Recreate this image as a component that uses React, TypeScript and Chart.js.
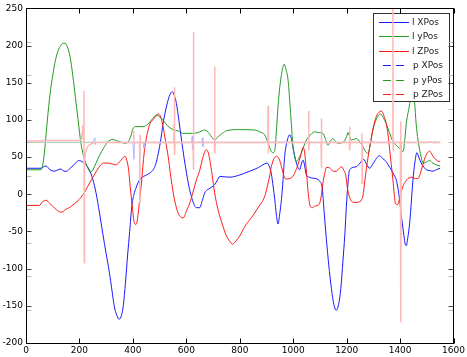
import React, { useEffect, useRef } from "react";
import { Chart, registerables } from "chart.js";

Chart.register(...registerables);

type P = [number, number];

const legendLabels = ["l XPos", "l yPos", "l ZPos", "p XPos", "p yPos", "p ZPos"];
const mainColors = ["#1a1aff", "#259a25", "#ff1a1a"];
const legendColors = ["#1a1aff", "#259a25", "#ff1a1a", "#1a1aff", "#259a25", "#ff1a1a"];
const lightColors = ["#b4b4ff", "#b4dcb4", "#ffb8b8"];

const lXPos: P[] = [
  [0, 35], [56, 35], [66, 37], [75, 38], [90, 33], [106, 31], [120, 33], [131, 34], [142, 31], [152, 31],
  [162, 34], [175, 38], [188, 43], [199, 45.5], [210, 44], [218, 42], [228, 38], [237, 33], [250, 20], [262, 2],
  [275, -25], [287, -52], [300, -80], [312, -105], [322, -130], [330, -150], [340, -163], [349, -168], [357, -163],
  [364, -150], [372, -120], [380, -83], [388, -50], [396, -16], [404, 0], [411, 8], [420, 16], [426, 20], [440, 24],
  [451, 26], [465, 29], [476, 33], [485, 40], [495, 55], [505, 75], [513, 95], [522, 112], [532, 127], [540, 135],
  [547, 138], [555, 133], [563, 122], [572, 100], [582, 73], [592, 48], [601, 28], [610, 10], [619, -3], [628, -13],
  [638, -18], [650, -18], [660, -8], [669, 2], [678, 6], [688, 8], [700, 11], [706, 13], [715, 18], [725, 24],
  [763, 23], [800, 26], [837, 31], [870, 36], [893, 41], [903, 42], [910, 38], [918, 28], [925, 10], [931, -7],
  [937, -28], [943, -40], [950, -25], [956, -7], [962, 20], [968, 51], [975, 68], [987, 80], [993, 75], [999, 64],
  [1005, 52], [1012, 42], [1018, 36], [1024, 33], [1030, 40], [1037, 46], [1043, 38], [1049, 26], [1060, 23],
  [1068, 22], [1093, 20], [1100, 17], [1108, 10], [1116, -25], [1124, -60], [1133, -95], [1143, -127], [1152, -148],
  [1161, -156], [1170, -148], [1178, -127], [1186, -90], [1193, -55], [1199, -16], [1205, 15], [1211, 33],
  [1236, 37], [1250, 42], [1264, 47], [1275, 40], [1286, 35], [1300, 42], [1323, 52], [1335, 48], [1348, 44],
  [1358, 38], [1367, 33], [1377, 26], [1386, 19], [1392, 8], [1398, -7], [1405, -30], [1413, -52], [1418, -65],
  [1423, -69], [1429, -58], [1436, -38], [1442, -10], [1448, 19], [1455, 42], [1463, 56], [1470, 50], [1479, 42],
  [1490, 36], [1498, 33], [1510, 32], [1523, 31], [1535, 33], [1550, 35],
];

const lYPos: P[] = [
  [0, 33], [56, 33], [62, 38], [70, 60], [80, 100], [90, 135], [100, 160], [110, 180], [120, 193], [130, 200],
  [140, 203], [147, 203], [155, 198], [165, 185], [175, 160], [185, 130], [195, 100], [205, 70], [213, 55],
  [218, 48.5], [228, 38], [236, 32], [243, 30], [252, 34], [262, 42], [275, 52], [290, 62], [305, 70], [324, 74],
  [340, 72], [355, 70], [374, 68.6], [385, 72], [392, 78], [400, 88], [411, 91], [439, 91], [455, 94], [470, 100],
  [488, 106.5], [500, 104], [512, 100], [530, 92], [550, 87], [570, 85], [587, 82], [629, 82], [650, 84],
  [669, 86.5], [685, 82], [697, 76], [706, 73], [720, 78], [735, 82], [750, 85.5], [800, 87], [856, 86.5],
  [875, 84], [893, 80], [905, 70], [918, 57.5], [925, 56], [931, 59], [937, 85], [943, 117], [950, 145],
  [958, 165], [966, 175], [973, 168], [981, 153], [987, 125], [993, 95], [999, 64], [1005, 52], [1012, 44],
  [1020, 48], [1030, 55], [1040, 65], [1049, 73], [1060, 78], [1080, 84], [1095, 83], [1111, 82], [1120, 75],
  [1130, 66], [1140, 72], [1149, 75], [1158, 71], [1167, 68.6], [1180, 69], [1192, 72], [1200, 78], [1205, 83],
  [1211, 78], [1218, 73], [1237, 75], [1250, 70], [1261, 64], [1270, 58], [1280, 55], [1290, 70], [1298, 86.5],
  [1310, 100], [1326, 108], [1337, 103], [1348, 95], [1360, 83], [1373, 71], [1385, 66], [1398, 62], [1411, 57.5],
  [1418, 75], [1423, 95], [1430, 110], [1436, 122], [1446, 152], [1454, 125], [1460, 95], [1467, 73], [1476, 55],
  [1486, 42], [1498, 43], [1510, 45.5], [1522, 42], [1535, 39.7], [1550, 38],
];

const lZPos: P[] = [
  [0, -15], [50, -15], [62, -10], [75, -8], [88, -12], [100, -16], [115, -21], [130, -24], [140, -23], [150, -20],
  [162, -18], [180, -13], [199, -7], [210, -2], [218, 2], [230, 10], [249, 22], [265, 32], [280, 39.7], [292, 42],
  [305, 42], [320, 41], [336, 39.7], [346, 42], [355, 45.5], [365, 50], [371, 51], [377, 46], [384, 33], [390, 10],
  [395, -8], [399, -20.5], [405, -38], [411, -40.5], [415, -38], [420, -25], [426, -5], [432, 15], [438, 40],
  [445, 64], [454, 82], [464, 95], [480, 102], [495, 108], [505, 103], [513, 91], [522, 72], [532, 51], [541, 26],
  [551, 2], [560, -14], [569, -25], [578, -30], [588, -32], [600, -23], [613, -11.6], [625, 3], [638, 19.6],
  [650, 32], [663, 51], [675, 60], [682, 56], [688, 46], [697, 25], [706, 2], [715, -15], [725, -29], [738, -44],
  [750, -56], [762, -63], [773, -67], [785, -63], [800, -56], [819, -43], [840, -33], [856, -25], [870, -17],
  [881, -11.6], [893, -3], [906, 15], [912, 25], [918, 37], [928, 48], [937, 51], [945, 49], [950, 45], [956, 37],
  [962, 28.5], [968, 22], [975, 20.5], [985, 21], [993, 22], [1005, 28], [1018, 40], [1028, 52], [1037, 63],
  [1042, 58], [1046, 45], [1050, 28], [1055, 6], [1060, -10], [1065, -17], [1072, -18], [1080, -16], [1090, -15],
  [1099, -12], [1105, -2], [1111, 15], [1118, 28], [1124, 36], [1133, 36], [1143, 33], [1152, 31], [1161, 31],
  [1170, 34], [1180, 37], [1190, 32], [1197, 25], [1203, 8], [1211, -4], [1218, -9.4], [1230, -11], [1249, -10],
  [1256, -7], [1261, -2], [1268, 18], [1274, 35], [1286, 63], [1300, 90], [1311, 105], [1320, 110], [1330, 112],
  [1340, 105], [1348, 95], [1355, 80], [1361, 60], [1367, 40], [1373, 19.6], [1378, 0], [1383, -13], [1390, -14],
  [1398, -6], [1404, 3], [1411, 11], [1420, 17], [1429, 21], [1442, 23], [1458, 21], [1467, 21], [1473, 25],
  [1479, 32], [1487, 42], [1495, 51], [1503, 56], [1510, 58], [1520, 53], [1529, 48.5], [1540, 45], [1550, 44],
];

const pXPos: P[] = [
  [0, 70], [250, 70], [258, 76], [260, 67], [262, 70], [400, 70], [404, 47], [406, 70], [440, 70], [441, 62],
  [442, 70], [620, 70], [622, 78], [623, 60], [625, 70], [658, 70], [660, 76], [662, 64], [664, 70], [1290, 70],
  [1292, 73], [1294, 70], [1550, 70],
];

const pYPos: P[] = [
  [0, 69.5], [300, 69.5], [302, 72], [304, 69.5], [1000, 69.5], [1002, 71], [1004, 69.5], [1525, 69.5],
  [1530, 72], [1535, 69.5], [1550, 69.5],
];

const pZPos: P[] = [
  [0, 71.5], [60, 71.5], [62, 72.5], [200, 72.5], [208, 74], [213, 93], [216, 72], [217, 139], [218, -92],
  [219, 45], [222, 55], [228, 62], [235, 66], [245, 68], [260, 69.5], [402, 69.5], [403, 85], [404, 69.5],
  [425, 69.5], [426, -12], [427, 80], [428, 69.5], [553, 69.5], [554, 95], [555, 69.5], [556, 144], [557, 53],
  [558, 69.5], [625, 69.5], [626, 218], [627, 33], [628, 69.5], [705, 69.5], [706, 172], [707, 55], [708, 69.5],
  [905, 70], [906, 119], [907, 55], [908, 69.5], [1057, 69.5], [1058, 112], [1059, 59], [1060, 69.5],
  [1104, 69.5], [1105, 102], [1106, 35], [1107, 69.5], [1210, 69.5], [1211, 91], [1212, 59], [1213, 69.5],
  [1256, 69.5], [1257, 82], [1258, 15], [1259, 69.5], [1372, 69.5], [1373, 260], [1374, 59], [1375, 69.5],
  [1401, 69.5], [1402, 98], [1403, -172], [1404, 69.5], [1500, 69.5], [1510, 71], [1520, 69.5], [1550, 69.5],
];

const toPts = (arr: P[]) => arr.map(([x, y]) => ({ x, y }));

const FONT = "DejaVu Sans";

const decorPlugin = {
  id: "decor",
  beforeDatasetDraw(chart: any, args: any) {
    if (args.index !== 5) return;
    const ctx = chart.ctx;
    ctx.save();
    const bx = 373.5, by = 13.5, bw = 76, bh = 88;
    ctx.fillStyle = "#ffffff";
    ctx.fillRect(bx, by, bw, bh);
    ctx.strokeStyle = "#333333";
    ctx.lineWidth = 1;
    ctx.strokeRect(bx, by, bw, bh);
    ctx.font = `9px "${FONT}"`;
    ctx.textBaseline = "middle";
    ctx.textAlign = "left";
    legendLabels.forEach((lab, i) => {
      const y = Math.round(by + 8.5 + i * 14.4) + 0.5;
      ctx.strokeStyle = legendColors[i];
      ctx.lineWidth = 1;
      ctx.setLineDash(i < 3 ? [] : [8, 5]);
      ctx.beginPath();
      ctx.moveTo(i < 3 ? 379 : 383, y);
      ctx.lineTo(409, y);
      ctx.stroke();
      ctx.setLineDash([]);
      ctx.fillStyle = "#222222";
      ctx.fillText(lab, i < 3 ? 412 : 413, y);
    });
    ctx.restore();
  },
  afterDraw(chart: any) {
    const { ctx, chartArea, scales } = chart;
    const L = Math.floor(chartArea.left) + 0.5;
    const R = Math.floor(chartArea.right) + 0.5;
    const T = Math.floor(chartArea.top) + 0.5;
    const B = Math.floor(chartArea.bottom) + 0.5;
    ctx.save();
    ctx.lineWidth = 1;
    ctx.strokeStyle = "#bbbbbb";
    for (let k = 0; k <= 10; k++) {
      const y = Math.round(scales.y2.getPixelForValue(k)) + 0.5;
      ctx.beginPath();
      ctx.moveTo(L, y); ctx.lineTo(L + 5, y);
      ctx.moveTo(R, y); ctx.lineTo(R - 5, y);
      ctx.stroke();
    }
    ctx.strokeStyle = "#444444";
    scales.y.ticks.forEach((t: any) => {
      const y = Math.round(scales.y.getPixelForValue(t.value)) + 0.5;
      ctx.beginPath();
      ctx.moveTo(L, y); ctx.lineTo(L + 5, y);
      ctx.moveTo(R, y); ctx.lineTo(R - 5, y);
      ctx.stroke();
    });
    ctx.strokeStyle = "#000000";
    scales.x.ticks.forEach((t: any) => {
      const x = Math.round(scales.x.getPixelForValue(t.value)) + 0.5;
      ctx.beginPath();
      ctx.moveTo(x, B); ctx.lineTo(x, B - 5);
      ctx.moveTo(x, T); ctx.lineTo(x, T + 5);
      ctx.stroke();
    });
    ctx.strokeStyle = "#000000";
    ctx.strokeRect(L, T, R - L, B - T);
    ctx.restore();
  },
};

export default function App() {
  const ref = useRef<HTMLCanvasElement | null>(null);
  useEffect(() => {
    document.body.style.margin = "0";
    const canvas = ref.current;
    if (!canvas) return;
    const lineDs = (label: string, data: P[], color: string, order: number, width: number, smooth: boolean) => ({
      label,
      data: toPts(data),
      borderColor: color,
      backgroundColor: color,
      borderWidth: width,
      pointRadius: 0,
      fill: false,
      order,
      tension: smooth ? 0.4 : 0,
      cubicInterpolationMode: smooth ? ("monotone" as const) : ("default" as const),
    });
    const chart = new Chart(canvas, {
      type: "line",
      data: {
        datasets: [
          lineDs(legendLabels[0], lXPos, mainColors[0], 6, 1, true),
          lineDs(legendLabels[1], lYPos, mainColors[1], 5, 1, true),
          lineDs(legendLabels[2], lZPos, mainColors[2], 4, 1, true),
          lineDs(legendLabels[3], pXPos, lightColors[0], 3, 1, false),
          lineDs(legendLabels[4], pYPos, lightColors[1], 2, 1, false),
          lineDs(legendLabels[5], pZPos, lightColors[2], 1, 1.5, false),
        ],
      },
      options: {
        animation: false,
        responsive: false,
        devicePixelRatio: 1,
        layout: { padding: { top: 7, right: 12.5, left: 0, bottom: 0 } },
        plugins: { legend: { display: false }, tooltip: { enabled: false } },
        scales: {
          x: {
            type: "linear",
            min: 0,
            max: 1600,
            ticks: {
              stepSize: 200, color: "#000", font: { family: FONT, size: 9 }, padding: 2, maxRotation: 0, autoSkip: false,
              callback: (v: any) => String(v),
            },
            grid: { display: false, drawTicks: false },
            border: { display: false },
            afterFit: (s: any) => { s.height = 14; },
          },
          y: {
            type: "linear",
            min: -200,
            max: 250,
            ticks: {
              stepSize: 50, color: "#000", font: { family: FONT, size: 9 }, padding: 3, autoSkip: false,
              callback: (v: any) => String(v),
            },
            grid: { display: false, drawTicks: false },
            border: { display: false },
            afterFit: (s: any) => { s.width = 26; },
          },
          y2: { type: "linear", display: false, min: 0, max: 10, position: "right" },
        },
      },
      plugins: [decorPlugin],
    });
    return () => chart.destroy();
  }, []);
  return (
    <div style={{ width: 467, height: 357 }}>
      <canvas ref={ref} width={467} height={357} style={{ width: 467, height: 357, display: "block" }} />
    </div>
  );
}
